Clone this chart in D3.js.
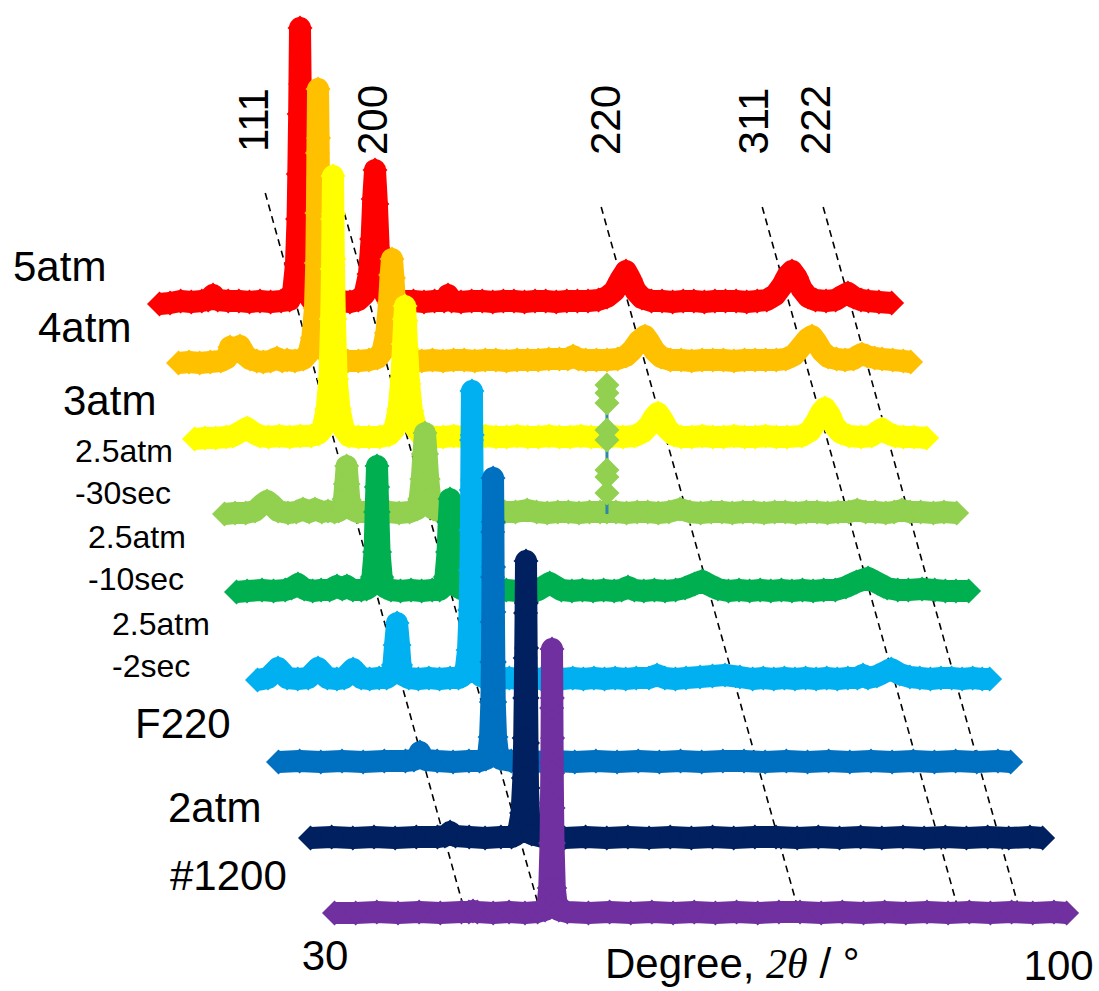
<!DOCTYPE html>
<html>
<head>
<meta charset="utf-8">
<script src="https://cdn.jsdelivr.net/npm/d3@7"></script>
<style>
  html, body { margin: 0; padding: 0; background: #ffffff; }
  svg { display: block; }
</style>
</head>
<body>
<svg id="chart" width="1099" height="991"></svg>
<script>
// ---- XRD patterns: [2θ (deg), intensity (a.u.)] ----
const atm5 = [[30.0,0],[31.0,1],[32.0,3],[33.0,2],[34.0,3],[34.6,4],[35.06,9],[35.5,4],[36.5,3],[37.5,3],[38.5,2],[39.5,3],[40.5,2],[41.5,3],[42.3,4],[42.65,14],[42.9,40],[43.05,85],[43.12,130],[43.2,190],[43.28,276],[43.34,220],[43.4,160],[43.47,110],[43.6,50],[43.85,16],[44.3,5],[45.0,3],[46.0,2],[47.0,3],[48.0,2],[48.8,4],[49.4,10],[49.8,30],[50.05,65],[50.2,105],[50.37,134],[50.55,100],[50.72,55],[50.95,22],[51.4,8],[52.0,4],[53.0,3],[54.0,3],[55.0,2],[56.0,3],[56.9,3],[57.27,9],[57.6,3],[58.5,2],[59.5,3],[60.5,3],[61.5,2],[62.5,3],[63.5,3],[64.5,2],[65.5,3],[66.5,3],[67.5,2],[68.5,3],[69.5,3],[70.5,3],[71.5,4],[72.3,7],[73.0,13],[73.6,25],[74.09,33],[74.5,25],[75.0,13],[75.6,6],[76.5,3],[77.5,3],[78.5,2],[79.5,3],[80.5,3],[81.5,2],[82.5,3],[83.5,3],[84.5,3],[85.5,2],[86.5,3],[87.4,4],[88.2,9],[88.9,19],[89.4,29],[89.78,33],[90.2,27],[90.7,15],[91.3,7],[92.0,4],[93.0,3],[93.9,4],[94.5,8],[95.07,11],[95.6,7],[96.3,4],[97.0,3],[98.0,2],[99.2,1]];

const atm4 = [[30.0,0],[31.0,1],[32.0,0],[33.0,1],[34.0,2],[34.58,5],[34.87,16],[35.34,12],[35.81,17],[36.3,8],[36.76,4],[37.4,2],[38.0,1],[38.7,2],[39.31,5],[39.8,2],[40.26,3],[41.0,2],[41.8,4],[42.3,10],[42.65,25],[42.9,55],[43.02,100],[43.08,150],[43.13,210],[43.19,274],[43.24,225],[43.29,170],[43.36,115],[43.5,55],[43.75,20],[44.2,7],[45.0,3],[46.0,2],[47.0,2],[48.0,3],[48.8,5],[49.3,12],[49.65,30],[49.9,60],[50.05,88],[50.18,104],[50.32,85],[50.5,50],[50.75,22],[51.2,8],[52.0,3],[53.0,2],[54.0,3],[55.0,2],[56.0,3],[57.0,3],[58.0,2],[59.0,3],[60.0,3],[61.0,2],[62.0,3],[63.0,3],[64.0,3],[65.0,4],[66.0,4],[66.8,4],[67.3,7],[67.8,4],[68.5,3],[69.5,3],[70.5,3],[71.5,4],[72.3,7],[72.9,13],[73.5,22],[74.09,27],[74.5,21],[75.0,12],[75.6,6],[76.5,3],[77.5,3],[78.5,2],[79.5,3],[80.5,3],[81.5,3],[82.5,2],[83.5,3],[84.5,3],[85.5,3],[86.5,3],[87.4,4],[88.2,8],[88.9,17],[89.45,24],[89.88,27],[90.3,21],[90.8,12],[91.4,6],[92.2,4],[93.0,3],[93.8,4],[94.2,7],[94.6,9],[95.1,7],[95.8,5],[96.5,4],[97.5,3],[98.5,2],[99.2,1]];

const atm3 = [[30.0,0],[31.0,1],[32.0,1],[33.0,2],[33.64,3],[34.3,7],[34.96,11],[35.6,6],[36.19,3],[37.0,2],[38.0,3],[39.0,2],[40.0,3],[41.0,3],[41.7,5],[42.1,10],[42.5,30],[42.75,60],[42.92,120],[43.0,170],[43.05,220],[43.09,263],[43.13,225],[43.17,180],[43.27,120],[43.44,60],[43.7,30],[44.1,10],[44.6,3],[45.5,2],[46.5,2],[47.5,2],[48.4,4],[48.9,10],[49.3,30],[49.55,60],[49.72,95],[49.83,120],[49.9,133],[49.98,118],[50.1,90],[50.28,55],[50.55,28],[50.95,10],[51.5,3],[52.5,2],[53.5,2],[54.5,3],[55.5,2],[56.5,2],[57.5,3],[58.5,2],[59.5,2],[60.5,3],[61.5,2],[62.5,2],[63.5,3],[64.5,2],[65.5,2],[66.5,3],[67.5,2],[68.5,2],[69.5,3],[70.5,2],[71.6,3],[72.4,7],[73.0,14],[73.45,22],[73.8,26],[74.2,20],[74.7,10],[75.3,4],[76.0,2],[77.0,2],[78.0,3],[79.0,2],[80.0,2],[81.0,3],[82.0,2],[83.0,2],[84.0,3],[85.0,2],[86.0,2],[87.4,3],[88.2,8],[88.8,18],[89.25,27],[89.6,31],[90.0,25],[90.5,13],[91.1,6],[91.9,3],[93.0,2],[94.0,3],[94.5,7],[94.98,10],[95.5,6],[96.2,3],[97.0,2],[98.0,2],[99.2,1]];

const sec30 = [[30.0,0],[31.0,1],[32.0,1],[32.88,3],[33.5,9],[34.02,13],[34.5,9],[35.06,3],[36.0,1],[36.8,2],[37.42,5],[38.0,2],[38.55,5],[39.2,2],[39.78,3],[40.4,2],[40.8,3],[41.1,5],[41.3,15],[41.42,30],[41.55,48],[41.68,30],[41.8,14],[42.0,5],[42.6,2],[43.5,2],[44.5,1],[45.5,2],[46.5,1],[47.5,2],[48.2,5],[48.45,15],[48.65,35],[48.8,60],[48.95,81],[49.1,60],[49.25,35],[49.45,15],[49.75,5],[50.5,2],[51.5,1],[52.5,2],[53.5,1],[54.5,2],[55.5,1],[56.5,2],[57.5,2],[58.6,4],[59.5,2],[60.5,1],[61.5,2],[62.5,2],[63.5,1],[64.5,2],[65.5,2],[66.15,2],[67.0,2],[68.0,1],[69.0,2],[70.0,2],[71.0,1],[72.0,2],[73.05,5],[74.0,2],[75.0,1],[76.0,2],[77.0,2],[78.0,1],[79.0,2],[80.0,2],[81.0,1],[82.0,2],[83.0,2],[84.0,1],[85.0,2],[86.0,2],[87.0,1],[88.0,2],[89.0,2],[89.8,4],[90.6,2],[91.5,2],[92.5,1],[93.3,2],[94.0,4],[94.8,2],[95.8,2],[97.0,1],[98.0,2],[99.2,1]];

// isolated spike recorded in the 2.5atm-30sec scan
const sec30Spike = [[66.15,0],[66.15,21],[66.15,44],[66.15,84],[66.15,129],[66.15,121],[66.15,111],[66.15,74],[66.15,37],[66.15,0]];

const sec10 = [[30.0,0],[31.0,1],[32.41,2],[33.5,1],[34.6,2],[35.2,4],[35.81,8],[36.4,3],[37.2,1],[38.0,2],[38.8,2],[39.5,6],[40.0,3],[40.44,6],[41.0,2],[41.8,2],[42.3,3],[42.6,5],[42.85,15],[43.05,40],[43.15,80],[43.22,105],[43.28,126],[43.34,105],[43.4,80],[43.52,40],[43.72,15],[44.0,5],[44.6,2],[45.5,1],[46.5,2],[47.5,1],[48.5,2],[49.2,2],[49.5,5],[49.75,15],[49.95,40],[50.06,70],[50.18,93],[50.3,70],[50.42,40],[50.62,15],[50.9,5],[51.5,2],[52.5,1],[53.5,2],[54.5,1],[55.5,2],[56.5,1],[57.5,2],[58.5,2],[59.6,9],[60.7,2],[61.7,1],[62.7,2],[63.7,1],[64.7,2],[65.7,1],[66.4,2],[67.0,5],[67.6,2],[68.5,1],[69.5,2],[70.5,1],[71.5,2],[72.4,4],[73.3,8],[74.0,11],[74.7,7],[75.5,3],[76.5,1],[77.5,2],[78.5,1],[79.5,2],[80.5,1],[81.5,2],[82.5,1],[83.5,2],[84.5,1],[85.5,2],[86.6,2],[87.6,5],[88.6,10],[89.7,14],[90.6,9],[91.5,4],[92.5,2],[93.5,2],[94.8,3],[96.0,2],[97.0,1],[98.0,1],[99.2,1]];

const sec2 = [[30.0,0],[31.0,2],[31.94,12],[32.8,2],[33.8,1],[34.8,2],[35.72,12],[36.6,2],[37.5,1],[38.2,2],[39.03,11],[39.8,2],[40.6,1],[41.5,2],[42.2,2],[42.6,5],[42.85,15],[43.0,35],[43.19,57],[43.38,35],[43.52,15],[43.75,5],[44.3,2],[45.2,1],[46.2,2],[47.2,1],[48.2,2],[49.0,2],[49.4,4],[49.7,12],[49.9,30],[50.05,70],[50.12,110],[50.17,150],[50.2,190],[50.23,240],[50.27,289],[50.3,245],[50.33,200],[50.36,160],[50.4,120],[50.48,70],[50.62,30],[50.82,12],[51.1,4],[51.8,2],[52.8,1],[53.8,2],[54.8,1],[55.8,2],[56.8,1],[57.8,2],[58.8,1],[59.8,2],[60.8,1],[61.8,2],[62.8,1],[63.8,2],[64.8,1],[65.8,2],[67.0,2],[67.76,5],[68.5,2],[69.5,1],[70.5,2],[71.83,3],[73.0,4],[74.19,5],[75.6,3],[76.8,1],[77.8,2],[78.8,1],[79.8,2],[80.8,1],[81.8,2],[82.8,1],[83.8,2],[84.8,1],[85.8,2],[86.7,2],[87.23,5],[87.7,2],[88.54,4],[89.3,8],[89.9,11],[90.7,6],[91.66,3],[92.6,2],[93.6,1],[94.6,2],[95.6,2],[96.6,1],[97.6,2],[98.5,1],[99.2,1]];

const f220 = [[30.0,0],[32.0,1],[34.0,0],[36.0,1],[38.0,0],[40.0,1],[42.0,1],[42.8,2],[43.15,5],[43.37,10],[43.6,5],[43.95,2],[45.0,1],[46.5,0],[48.0,1],[49.0,1],[49.6,3],[49.85,10],[50.0,25],[50.12,60],[50.17,100],[50.2,140],[50.23,185],[50.25,230],[50.28,284],[50.31,240],[50.33,195],[50.36,150],[50.4,100],[50.44,60],[50.56,25],[50.72,10],[51.0,3],[52.0,1],[54.0,0],[56.0,1],[58.0,0],[60.0,1],[62.0,0],[64.0,1],[66.0,0],[68.0,1],[70.0,0],[72.0,1],[74.0,1],[76.0,0],[78.0,1],[80.0,0],[82.0,1],[84.0,0],[86.0,1],[88.0,0],[90.0,1],[92.0,0],[94.0,1],[96.0,0],[98.0,1],[99.2,0]];

const atm2 = [[30.0,0],[32.0,1],[34.0,0],[36.0,1],[38.0,0],[40.0,1],[42.0,1],[42.7,2],[43.0,4],[43.19,6],[43.4,4],[43.7,2],[45.0,1],[46.5,0],[48.0,1],[49.0,1],[49.4,3],[49.7,10],[49.95,25],[50.12,60],[50.2,100],[50.25,140],[50.29,180],[50.33,225],[50.37,277],[50.4,235],[50.43,190],[50.47,140],[50.51,95],[50.56,50],[50.68,15],[50.9,4],[52.0,1],[54.0,0],[56.0,1],[58.0,0],[60.0,1],[62.0,0],[64.0,1],[66.0,0],[68.0,1],[70.0,0],[72.0,1],[74.0,1],[76.0,0],[78.0,1],[80.0,0],[82.0,1],[84.0,0],[86.0,1],[88.0,0],[90.0,1],[92.0,0],[94.0,1],[96.0,0],[98.0,1],[99.2,0]];

const n1200 = [[30.0,0],[32.0,0],[34.0,1],[36.0,0],[38.0,1],[40.0,0],[42.0,1],[42.7,1],[43.09,2],[43.5,1],[45.0,0],[46.5,1],[48.0,0],[49.2,1],[49.9,3],[50.15,10],[50.3,25],[50.42,70],[50.46,110],[50.5,150],[50.53,205],[50.56,264],[50.59,215],[50.61,175],[50.63,140],[50.66,105],[50.7,70],[50.82,25],[50.98,10],[51.2,3],[52.0,1],[54.0,0],[56.0,1],[58.0,0],[60.0,1],[62.0,0],[64.0,1],[66.0,0],[68.0,1],[70.0,0],[72.0,1],[74.0,1],[76.0,0],[78.0,1],[80.0,0],[82.0,1],[84.0,0],[86.0,1],[88.0,0],[90.0,1],[92.0,0],[94.0,1],[96.0,0],[98.0,1],[99.2,0]];

const patterns = [atm5, atm4, atm3, sec30, sec10, sec2, f220, atm2, n1200];
const seriesLabels = [["5atm"], ["4atm"], ["3atm"], ["2.5atm", "-30sec"], ["2.5atm", "-10sec"], ["2.5atm", "-2sec"], ["F220"], ["2atm"], ["#1200"]];
const seriesColors = ["#FF0000", "#FFC000", "#FFFF00", "#92D050", "#00B050", "#00B0F0", "#0070C0", "#002060", "#7030A0"];

// reflection guides (degree where each guide crosses the top and bottom patterns)
const hklLabels = ["111", "200", "220", "311", "222"];
const guideDegTop = [42.91, 49.88, 74.32, 89.53, 95.29];
const guideDegBottom = [42.35, 49.48, 73.92, 89.05, 94.82];
const guideTopLevel = [111, 91, 97, 97, 97];

const xTickValues = [30, 100];
const xTitle = ["Degree, ", "2θ", " / °"];

// ---- layout ----
const W = 1099, H = 991;
const pxPerDeg = 10.58;
const rowLeft = [159.5, 178.5, 194.5, 224.5, 236.5, 257.5, 278.5, 310.5, 334.5];
const rowBase = [304, 363, 439, 514, 592, 680, 762, 838, 913];
const labelPos = [
  {x: 13, y: 281, size: 42}, {x: 38, y: 342, size: 42}, {x: 63, y: 415, size: 42},
  {x: 75, y: 462, size: 32}, {x: 88, y: 548, size: 32}, {x: 112, y: 635, size: 32},
  {x: 135, y: 738, size: 42}, {x: 168, y: 822, size: 42}, {x: 170, y: 890, size: 42}
];
const hklPos = [{x: 268, y: 120}, {x: 387, y: 120}, {x: 620, y: 120}, {x: 768, y: 121}, {x: 830, y: 120}];
const bandWidth = 22, markerR = 12.5;
const font = "'Liberation Sans', Arial, Helvetica, sans-serif";

const svg = d3.select("#chart");
svg.append("rect").attr("width", W).attr("height", H).attr("fill", "#fff");

const xScales = rowLeft.map(l => d3.scaleLinear().domain([30, 100]).range([l, l + 70 * pxPerDeg]));
const yScales = rowBase.map(b => d3.scaleLinear().domain([0, 300]).range([b, b - 300]));

// dashed guide lines sit behind the patterns
const guides = svg.append("g").attr("class", "guides");
hklLabels.forEach((h, i) => {
  const xa = xScales[0](guideDegTop[i]), ya = yScales[0](0);
  const xb = xScales[8](guideDegBottom[i]), yb = yScales[8](0);
  const slope = (xb - xa) / (yb - ya);
  const yTop = yScales[0](guideTopLevel[i]);
  guides.append("line")
    .attr("x1", xa + slope * (yTop - ya)).attr("y1", yTop)
    .attr("x2", xb).attr("y2", yb)
    .attr("stroke", "#000").attr("stroke-width", 1.6)
    .attr("stroke-dasharray", "7,5");
});

const diamond = `M0,${-markerR}L${markerR},0L0,${markerR}L${-markerR},0Z`;

patterns.forEach((data, i) => {
  const x = xScales[i], y = yScales[i];
  const g = svg.append("g").attr("class", "pattern");
  const line = d3.line().x(d => x(d[0])).y(d => y(d[1]));
  g.append("path")
    .attr("d", line(data))
    .attr("fill", "none")
    .attr("stroke", seriesColors[i])
    .attr("stroke-width", bandWidth)
    .attr("stroke-linejoin", "round");
  g.selectAll("path.m").data(data).join("path")
    .attr("class", "m")
    .attr("d", diamond)
    .attr("transform", d => `translate(${x(d[0])},${y(d[1])})`)
    .attr("fill", seriesColors[i]);
  if (data === sec30) {
    g.append("path")
      .attr("d", line(sec30Spike))
      .attr("fill", "none")
      .attr("stroke", "#2F86A8")
      .attr("stroke-width", 3);
    g.selectAll("path.s").data(sec30Spike.filter(d => d[1] > 0)).join("path")
      .attr("class", "s")
      .attr("d", diamond)
      .attr("transform", d => `translate(${x(d[0])},${y(d[1])})`)
      .attr("fill", seriesColors[i]);
  }
});

// sample labels
seriesLabels.forEach((lines, i) => {
  const p = labelPos[i];
  const t = svg.append("text")
    .attr("font-family", font).attr("font-size", p.size).attr("fill", "#000");
  lines.forEach((s, k) => {
    t.append("tspan").attr("x", p.x).attr("y", p.y + k * 42).text(s);
  });
});

// reflection indices
hklLabels.forEach((h, i) => {
  svg.append("text")
    .attr("transform", `translate(${hklPos[i].x},${hklPos[i].y}) rotate(-90)`)
    .attr("text-anchor", "middle")
    .attr("font-family", font).attr("font-size", 42).attr("fill", "#000")
    .text(h);
});

// 2θ range labels on the bottom pattern's scale
const axis = d3.axisBottom(xScales[8]).tickValues(xTickValues).tickSize(0).tickPadding(0)
  .tickFormat(d3.format("d"));
const ag = svg.append("g").attr("transform", "translate(-10,970)").call(axis);
ag.select(".domain").remove();
ag.selectAll("text")
  .attr("font-family", font).attr("font-size", 42).attr("fill", "#000")
  .attr("dy", 0)
  .attr("dx", d => d === 100 ? -7 : 0)
  .attr("y", d => d === 100 ? 10 : 0);

const title = svg.append("text")
  .attr("x", 605).attr("y", 978)
  .attr("font-family", font).attr("font-size", 42).attr("fill", "#000");
title.append("tspan").text(xTitle[0]);
title.append("tspan").attr("font-family", "'Liberation Serif', 'DejaVu Serif', serif").attr("font-style", "italic").text(xTitle[1]);
title.append("tspan").text(xTitle[2]);
</script>
</body>
</html>
